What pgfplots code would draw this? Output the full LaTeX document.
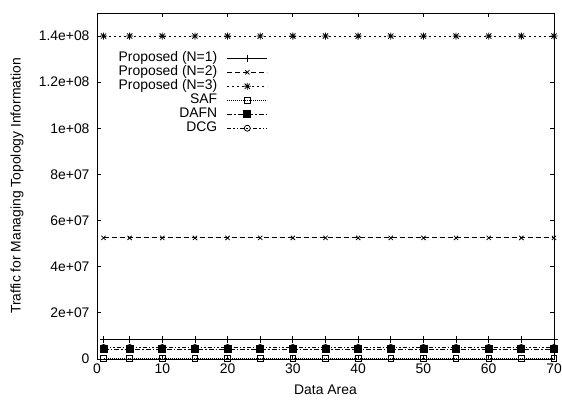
\documentclass[border=0pt]{standalone}
\usepackage{fontspec}
\setmainfont{Liberation Sans}
\usepackage{pgfplots}
\usepackage{pgfplotstable}
\pgfplotsset{compat=1.18}
\pgfdeclareplotmark{plusx}{%
  \pgfpathmoveto{\pgfqpoint{-\pgfplotmarksize}{0pt}}%
  \pgfpathlineto{\pgfqpoint{\pgfplotmarksize}{0pt}}%
  \pgfpathmoveto{\pgfqpoint{0pt}{-\pgfplotmarksize}}%
  \pgfpathlineto{\pgfqpoint{0pt}{\pgfplotmarksize}}%
  \pgfpathmoveto{\pgfqpoint{-0.75\pgfplotmarksize}{-0.75\pgfplotmarksize}}%
  \pgfpathlineto{\pgfqpoint{0.75\pgfplotmarksize}{0.75\pgfplotmarksize}}%
  \pgfpathmoveto{\pgfqpoint{-0.75\pgfplotmarksize}{0.75\pgfplotmarksize}}%
  \pgfpathlineto{\pgfqpoint{0.75\pgfplotmarksize}{-0.75\pgfplotmarksize}}%
  \pgfusepathqstroke}
\pgfplotstableread{
x   n1      n2       n3      saf    dafn    dcg
1   8.3e6   5.25e7   1.4e8   3e5    4.2e6   5.0e6
5   8.3e6   5.25e7   1.4e8   3e5    4.2e6   5.0e6
10  8.3e6   5.25e7   1.4e8   3e5    4.2e6   5.0e6
15  8.3e6   5.25e7   1.4e8   3e5    4.2e6   5.0e6
20  8.3e6   5.25e7   1.4e8   3e5    4.2e6   5.0e6
25  8.3e6   5.25e7   1.4e8   3e5    4.2e6   5.0e6
30  8.3e6   5.25e7   1.4e8   3e5    4.2e6   5.0e6
35  8.3e6   5.25e7   1.4e8   3e5    4.2e6   5.0e6
40  8.3e6   5.25e7   1.4e8   3e5    4.2e6   5.0e6
45  8.3e6   5.25e7   1.4e8   3e5    4.2e6   5.0e6
50  8.3e6   5.25e7   1.4e8   3e5    4.2e6   5.0e6
55  8.3e6   5.25e7   1.4e8   3e5    4.2e6   5.0e6
60  8.3e6   5.25e7   1.4e8   3e5    4.2e6   5.0e6
65  8.3e6   5.25e7   1.4e8   3e5    4.2e6   5.0e6
70  8.3e6   5.25e7   1.4e8   3e5    4.2e6   5.0e6
}\datatable
\begin{document}
\begin{tikzpicture}
\begin{axis}[
  name=ax,
  scale only axis, width=457bp, height=346bp,
  xmin=0, xmax=70, ymin=0, ymax=1.5e8,
  xtick={0,10,...,70},
  ytick={0,2e7,4e7,6e7,8e7,1e8,1.2e8,1.4e8},
  yticklabels={0,2e+07,4e+07,6e+07,8e+07,1e+08,1.2e+08,1.4e+08},
  scaled y ticks=false,
  tick align=inside, tick pos=both,
  major tick length=4bp,
  axis line style={line width=0.8bp},
  every tick/.style={line width=0.8bp, black},
  font=\fontsize{13.9bp}{14.4bp}\selectfont,
  /pgf/number format/assume math mode=true,
  yticklabel style={xshift=-4bp},
  xticklabel style={yshift=-1bp},
  xlabel={Data Area}, ylabel={Traffic for Managing Topology Information},
  xlabel style={at={(axis description cs:0.5,-0.0896)}, anchor=center},
  ylabel style={at={(axis description cs:-0.175,0.5)}, anchor=center},
  legend plot pos=right,
  legend cell align=right,
  legend style={at={(rel axis cs:0.374,0.89)}, anchor=north east, draw=none, fill=none,
    font=\fontsize{13.9bp}{14.4bp}\selectfont, row sep=0bp, column sep=9.5bp, inner sep=0bp,
    nodes={inner sep=0.2bp, text height=10bp, text depth=3.6bp}},
  legend image code/.code={
    \draw[mark repeat=2,mark phase=2,#1] plot coordinates {(0bp,0bp) (20bp,0bp) (40bp,0bp)};},
  every axis plot/.append style={line width=0.8bp, black},
]
\addplot[solid, mark=+, mark size=3.5bp, mark options={solid}] table[x=x,y=n1] {\datatable};
\addlegendentry{Proposed (N=1)}
\addplot[dash pattern=on 5bp off 3bp, mark=x, mark size=3bp, mark options={solid}] table[x=x,y=n2] {\datatable};
\addlegendentry{Proposed (N=2)}
\addplot[dash pattern=on 2bp off 3bp, mark=plusx, mark size=3.5bp, mark options={solid}] table[x=x,y=n3] {\datatable};
\addlegendentry{Proposed (N=3)}
\addplot[dash pattern=on 1bp off 1bp, mark=square, mark size=2.8bp, mark options={solid}] table[x=x,y=saf] {\datatable};
\addlegendentry{SAF}
\addplot[dash pattern=on 5bp off 2bp on 1.5bp off 2bp, mark=square*, mark size=3.5bp, mark options={solid}] table[x=x,y=dafn] {\datatable};
\addlegendentry{DAFN}
\addplot[dash pattern=on 4bp off 2bp on 1.5bp off 2bp on 1.5bp off 2bp, mark=o, mark size=3bp, mark options={solid}] table[x=x,y=dcg] {\datatable};
\addlegendentry{DCG}
\end{axis}
\pgfresetboundingbox
\path[use as bounding box] ([shift={(-97bp,-42bp)}]ax.south west) rectangle ([shift={(8bp,13bp)}]ax.north east);
\end{tikzpicture}
\end{document}
